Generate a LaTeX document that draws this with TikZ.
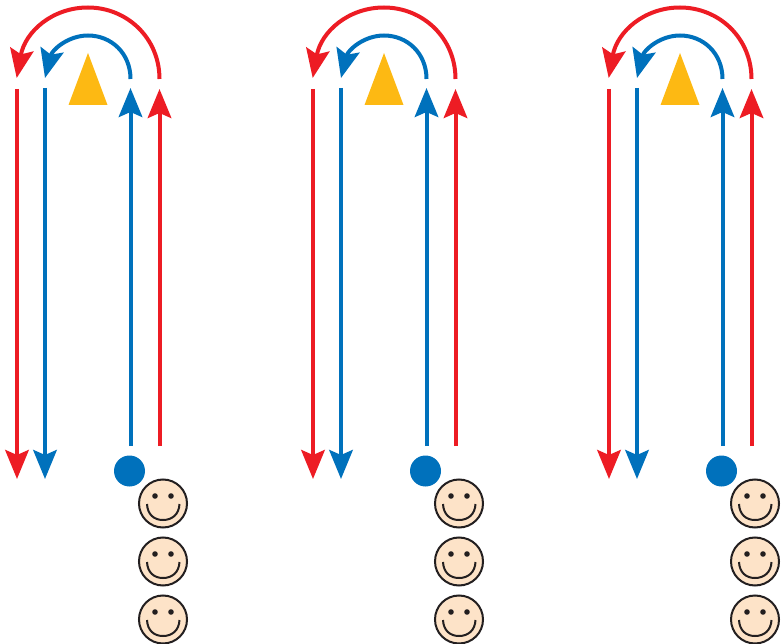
\documentclass[tikz,border=0pt]{standalone}
\usetikzlibrary{arrows.meta,shapes.geometric}
\definecolor{rd}{HTML}{ED1C24}
\definecolor{bl}{HTML}{0071BC}
\definecolor{yl}{HTML}{FDB913}
\definecolor{fc}{HTML}{FDE3C8}
\definecolor{ink}{HTML}{231F20}
\tikzset{
  flow/.style={line width=4pt,-{Stealth[length=29pt,width=23.5pt,inset=5pt]}},
  redflow/.style={flow,draw=rd},
  blueflow/.style={flow,draw=bl},
  ball/.style={circle,fill=bl,inner sep=0pt,minimum size=31pt},
  smiley/.style={circle,draw=ink,fill=fc,line width=2pt,inner sep=0pt,minimum size=48pt},
  eye/.style={circle,fill=ink,inner sep=0pt,minimum size=5.6pt},
  smile/.style={draw=ink,line width=2pt},
  cone/.style={fill=yl}
}
\begin{document}
\begin{tikzpicture}[x=1pt,y=-1pt]
\useasboundingbox (0,0) rectangle (782,644);
\foreach \d/\n in {0/a,296/b,592/c}{
  \begin{scope}[xshift=\d pt]
    \fill[cone] (88,53) -- (107.5,105) -- (68.5,105) -- cycle;
    \coordinate (\n rs) at (159.5,446); \coordinate (\n re) at (159.5,89);
    \coordinate (\n bs) at (130.5,446); \coordinate (\n be) at (130.5,88);
    \coordinate (\n rds) at (17,89); \coordinate (\n rde) at (17,479);
    \coordinate (\n bds) at (45,88); \coordinate (\n bde) at (45,479);
    \coordinate (\n ras) at (159.5,79); \coordinate (\n rat) at (88,7.5); \coordinate (\n rae) at (16.7,78);
    \coordinate (\n bas) at (130.5,79); \coordinate (\n bat) at (88,35.5); \coordinate (\n bae) at (45,78);
    \draw[redflow] (\n rs) -- (\n re);
    \draw[blueflow] (\n bs) -- (\n be);
    \draw[redflow] (\n rds) -- (\n rde);
    \draw[blueflow] (\n bds) -- (\n bde);
    \draw[redflow] (\n ras) .. controls (159.5,38) and (127,7.5) .. (\n rat) .. controls (52,7.5) and (25,32) .. (\n rae);
    \draw[blueflow] (\n bas) .. controls (130.5,53) and (111,35.5) .. (\n bat) .. controls (68,35.5) and (52,50) .. (\n bae);
    \node[ball] (\n dot) at (129.5,471) {};
    \foreach \y/\m in {503.5/1,561.5/2,619.5/3}{
      \node[smiley] (\n f\m) at (163,\y) {};
      \node[eye] (\n fl\m) at (155,\y-7.5) {};
      \node[eye] (\n fr\m) at (171,\y-7.5) {};
      \draw[smile] (147,\y+0.5) .. controls (147.5,\y+11) and (154,\y+16.5) .. (163,\y+16.5) .. controls (172,\y+16.5) and (179,\y+11) .. (179.5,\y+0.5);
    }
  \end{scope}
}
\end{tikzpicture}
\end{document}
